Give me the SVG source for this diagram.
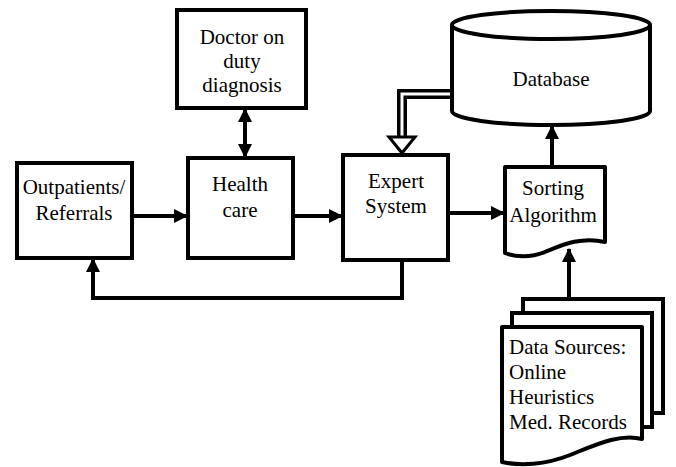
<svg xmlns="http://www.w3.org/2000/svg" width="676" height="467" viewBox="0 0 676 467">
  <defs>
    <marker id="arrow" viewBox="0 0 14 14" refX="13" refY="7" markerWidth="14" markerHeight="14" markerUnits="userSpaceOnUse" orient="auto-start-reverse">
      <path d="M0,0 L14,7 L0,14 Z" fill="#000"/>
    </marker>
  </defs>
  <rect width="676" height="467" fill="#fff"/>

  <!-- connectors -->
  <g id="connectors" fill="none" stroke="#000" stroke-width="4">
    <path d="M132,216 H187" marker-end="url(#arrow)"/>
    <path d="M293,216 H342" marker-end="url(#arrow)"/>
    <path d="M448,213 H504" marker-end="url(#arrow)"/>
    <path d="M245,109 V157" marker-start="url(#arrow)" marker-end="url(#arrow)"/>
    <path d="M402,260 V298 H93 V259" marker-end="url(#arrow)"/>
    <path d="M552,168 V126" marker-end="url(#arrow)"/>
    <path d="M569,298 V249" marker-end="url(#arrow)"/>
    <!-- hollow double-line arrow from the database into the expert system -->
    <path d="M454,94 H402 V137" stroke-width="10"/>
    <path d="M456,94 H402 V139" stroke="#fff" stroke-width="3"/>
    <path d="M389,137 L415,137 L402,153 Z" fill="#fff" stroke-width="3"/>
  </g>

  <g id="doctor" text-anchor="middle" style="font-family: 'Liberation Serif', serif; font-size: 21px">
    <rect x="177" y="10" width="129" height="98" fill="#fff" stroke="#000" stroke-width="4"/>
    <text x="242" y="44">Doctor on</text>
    <text x="242" y="68">duty</text>
    <text x="242" y="92">diagnosis</text>
  </g>

  <g id="outpatients" text-anchor="middle" style="font-family: 'Liberation Serif', serif; font-size: 21px">
    <rect x="17" y="163" width="115" height="95" fill="#fff" stroke="#000" stroke-width="4"/>
    <text x="74" y="194">Outpatients/</text>
    <text x="74" y="220">Referrals</text>
  </g>

  <g id="health-care" text-anchor="middle" style="font-family: 'Liberation Serif', serif; font-size: 21px">
    <rect x="188" y="158" width="105" height="100" fill="#fff" stroke="#000" stroke-width="4"/>
    <text x="240" y="191">Health</text>
    <text x="240" y="217">care</text>
  </g>

  <g id="expert-system" text-anchor="middle" style="font-family: 'Liberation Serif', serif; font-size: 21px">
    <rect x="343" y="155" width="105" height="105" fill="#fff" stroke="#000" stroke-width="4"/>
    <text x="396" y="188">Expert</text>
    <text x="396" y="213">System</text>
  </g>

  <g id="database" text-anchor="middle" style="font-family: 'Liberation Serif', serif; font-size: 21px">
    <path d="M452,25 A99,14 0 0 1 650,25 V111 A99,14 0 0 1 452,111 Z" fill="#fff" stroke="#000" stroke-width="4"/>
    <path d="M452,25 A99,14 0 0 0 650,25" fill="none" stroke="#000" stroke-width="4"/>
    <text x="551" y="86">Database</text>
  </g>

  <g id="sorting-algorithm" text-anchor="middle" style="font-family: 'Liberation Serif', serif; font-size: 21px">
    <path d="M505,167 H605 V242 C580,236 560,246 545,252 C530,258 515,257 505,253 Z" fill="#fff" stroke="#000" stroke-width="4" stroke-linejoin="round"/>
    <text x="553" y="195">Sorting</text>
    <text x="553" y="222">Algorithm</text>
  </g>

  <g id="data-sources" style="font-family: 'Liberation Serif', serif; font-size: 21px">
    <rect x="523" y="299" width="140" height="114" fill="#fff" stroke="#000" stroke-width="4"/>
    <rect x="512" y="313" width="140" height="114" fill="#fff" stroke="#000" stroke-width="4"/>
    <path d="M502,327 H642 V439 C620,433 595,445 570,455 C545,465 520,466 502,462 Z" fill="#fff" stroke="#000" stroke-width="4" stroke-linejoin="round"/>
    <text x="509" y="354">Data Sources:</text>
    <text x="509" y="379">Online</text>
    <text x="509" y="404">Heuristics</text>
    <text x="509" y="429">Med. Records</text>
  </g>
</svg>
